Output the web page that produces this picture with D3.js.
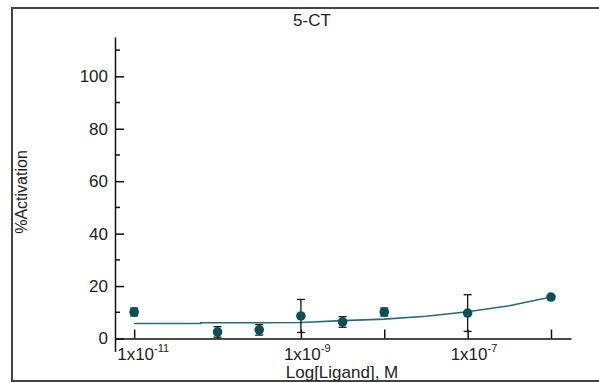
<!DOCTYPE html>
<html>
<head>
<meta charset="utf-8">
<script src="https://cdn.jsdelivr.net/npm/d3@7"></script>
<style>
  body { margin: 0; background: #fff; }
  svg { display: block; font-family: 'Liberation Sans', Arial, sans-serif; }
</style>
</head>
<body>
<div class="container"></div>
<script>
// measured points: log10 of molar concentration, % activation, error
const concLog = [-11, -10, -9.5, -9, -8.5, -8, -7, -6];
const activation = [10.1, 2.5, 3.3, 8.6, 6.3, 10.1, 9.7, 15.8];
const errors = [1.5, 2.0, 2.0, 6.3, 2.0, 1.5, 7.0, 0];

// fitted curve
const fitLog = [-11, -10.2, -10.2, -9.5, -9, -8.5, -8, -7.5, -7, -6.5, -6];
const fitValues = [5.7, 5.7, 6.0, 6.0, 6.1, 6.8, 7.4, 8.5, 10.2, 12.5, 15.8];

const yTicks = [0, 20, 40, 60, 80, 100];
const yMinorTicks = [10, 30, 50, 70, 90, 110];
const xTicks = [-11, -10, -9, -8, -7, -6];
const xLabelTicks = [-11, -9, -7];

const width = 599;
const height = 383;
const teal = '#0c4f55';

const svg = d3
  .select('.container')
  .append('svg')
  .attr('width', width)
  .attr('height', height);

// frame
svg
  .append('rect')
  .attr('x', 12)
  .attr('y', 8)
  .attr('width', 620)
  .attr('height', 373)
  .attr('fill', 'none')
  .attr('stroke', '#444')
  .attr('stroke-width', 2);

const xScale = d3.scaleLinear().domain([-11.23, -5.76]).range([115, 571]);
const yScale = d3.scaleLinear().domain([-5, 115]).range([351.6, 37]);

// y axis
svg
  .append('g')
  .attr('transform', 'translate(115,0)')
  .call(
    d3
      .axisLeft(yScale)
      .tickValues(yTicks)
      .tickSize(-9)
      .tickSizeOuter(0)
      .tickPadding(7)
  )
  .call((g) => g.selectAll('text').attr('font-size', 17).attr('fill', '#222'))
  .call((g) => g.selectAll('path, line').attr('stroke', '#111').attr('stroke-width', 1.5))
  .attr('font-family', null);

svg
  .append('g')
  .attr('transform', 'translate(115,0)')
  .selectAll('line')
  .data(yMinorTicks)
  .enter()
  .append('line')
  .attr('x1', 0)
  .attr('x2', 5)
  .attr('y1', (d) => yScale(d))
  .attr('y2', (d) => yScale(d))
  .attr('stroke', '#111')
  .attr('stroke-width', 1.5);

// x axis
svg
  .append('g')
  .attr('transform', `translate(0,${yScale(0)})`)
  .call(
    d3
      .axisBottom(xScale)
      .tickValues(xTicks)
      .tickSize(-9)
      .tickSizeOuter(0)
      .tickFormat('')
  )
  .call((g) => g.selectAll('path, line').attr('stroke', '#111').attr('stroke-width', 1.5));

const xLabels = svg
  .append('g')
  .selectAll('text')
  .data(xLabelTicks)
  .enter()
  .append('text')
  .attr('x', (d) => xScale(d) - 17)
  .attr('y', 360)
  .attr('font-size', 17)
  .attr('fill', '#222');
xLabels.append('tspan').text('1x10');
xLabels
  .append('tspan')
  .attr('dy', -8)
  .attr('font-size', 11)
  .text((d) => d);

// titles
svg
  .append('text')
  .attr('x', 312)
  .attr('y', 26)
  .attr('text-anchor', 'middle')
  .attr('font-size', 17)
  .attr('fill', '#222')
  .text('5-CT');

svg
  .append('text')
  .attr('x', 342)
  .attr('y', 378)
  .attr('text-anchor', 'middle')
  .attr('font-size', 17)
  .attr('fill', '#222')
  .text('Log[Ligand], M');

svg
  .append('text')
  .attr('transform', 'translate(27,192) rotate(-90)')
  .attr('text-anchor', 'middle')
  .attr('font-size', 16)
  .attr('fill', '#222')
  .text('%Activation');

// fitted curve
const line = d3
  .line()
  .x((d, i) => xScale(fitLog[i]))
  .y((d) => yScale(d));

svg
  .append('path')
  .attr('d', line(fitValues))
  .attr('fill', 'none')
  .attr('stroke', '#2a6b6e')
  .attr('stroke-width', 1.6);

// error bars
const points = concLog.map((c, i) => ({ c, v: activation[i], e: errors[i] }));
const bars = svg
  .append('g')
  .selectAll('g')
  .data(points.filter((d) => d.e > 0))
  .enter()
  .append('g')
  .attr('stroke', '#111')
  .attr('stroke-width', 1.3);
bars
  .append('line')
  .attr('x1', (d) => xScale(d.c))
  .attr('x2', (d) => xScale(d.c))
  .attr('y1', (d) => yScale(d.v - d.e))
  .attr('y2', (d) => yScale(d.v + d.e));
[-1, 1].forEach((s) => {
  bars
    .append('line')
    .attr('x1', (d) => xScale(d.c) - 4)
    .attr('x2', (d) => xScale(d.c) + 4)
    .attr('y1', (d) => yScale(d.v + s * d.e))
    .attr('y2', (d) => yScale(d.v + s * d.e));
});

// points
svg
  .append('g')
  .selectAll('circle')
  .data(points)
  .enter()
  .append('circle')
  .attr('cx', (d) => xScale(d.c))
  .attr('cy', (d) => yScale(d.v))
  .attr('r', 4.8)
  .attr('fill', teal);
</script>
</body>
</html>
